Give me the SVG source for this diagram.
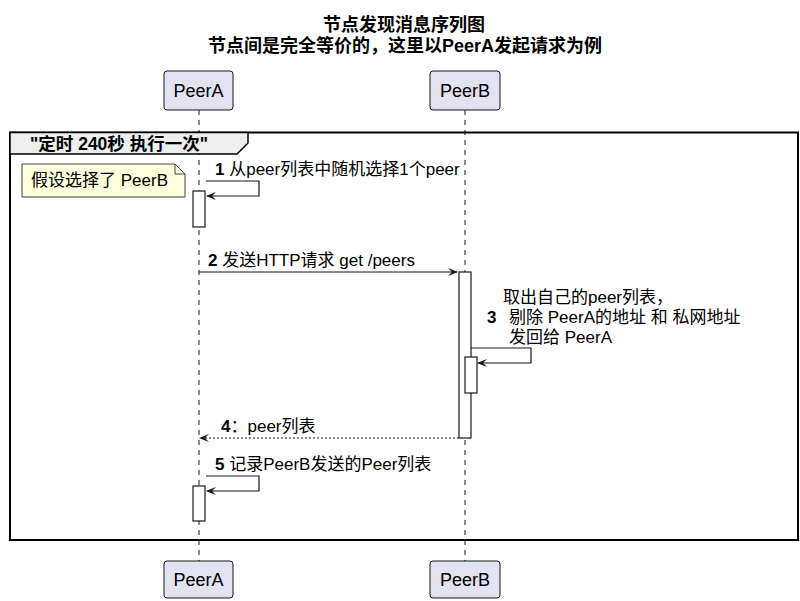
<svg xmlns="http://www.w3.org/2000/svg" width="800" height="601" viewBox="0 0 800 601">
<style>
text{font-family:"Liberation Sans","Noto Sans CJK SC",sans-serif;fill:#000}
.title{font-size:18px;font-weight:bold;text-anchor:middle}
.part{fill:#E2E2F0;stroke:#181818;stroke-width:1}
.pt{font-size:18px;text-anchor:middle}
.life{stroke:#181818;stroke-width:1;stroke-dasharray:5 5}
.act{fill:#fff;stroke:#181818;stroke-width:1.2}
.msg{fill:none;stroke:#181818;stroke-width:1.2}
.ret{fill:none;stroke:#181818;stroke-width:1.2;stroke-dasharray:2 2}
.head{fill:#181818}
.m{font-size:17px}
.n{font-weight:bold}
</style>
<text class="title" x="404" y="31">节点发现消息序列图</text>
<text class="title" x="405" y="52">节点间是完全等价的，这里以PeerA发起请求为例</text>

<g id="lifelines">
<line class="life" x1="199" y1="110" x2="199" y2="561"/>
<line class="life" x1="465" y1="110" x2="465" y2="561"/>
</g>

<g id="group-loop">
<rect x="10" y="132.5" width="788" height="407.5" fill="none" stroke="#000" stroke-width="2"/>
<path d="M10,132.5 H248 V143 L237,154 H10 Z" fill="#EEEEEE" stroke="#000" stroke-width="1.5"/>
<text x="30" y="150" font-size="17.5" font-weight="bold">"定时 240秒 执行一次"</text>
</g>

<g id="PeerA">
<rect class="part" x="164" y="71" width="69" height="39" rx="3"/>
<text class="pt" x="198.5" y="97">PeerA</text>
<rect class="part" x="164" y="561" width="69" height="37" rx="3"/>
<text class="pt" x="198.5" y="586">PeerA</text>
</g>
<g id="PeerB">
<rect class="part" x="430" y="71" width="70" height="39" rx="3"/>
<text class="pt" x="465" y="97">PeerB</text>
<rect class="part" x="430" y="561" width="70" height="37" rx="3"/>
<text class="pt" x="465" y="586">PeerB</text>
</g>

<g id="activations">
<rect class="act" x="193" y="191" width="12" height="36"/>
<rect class="act" x="459" y="272" width="12" height="166"/>
<rect class="act" x="465" y="357" width="12" height="36"/>
<rect class="act" x="193" y="486" width="12" height="35"/>
</g>

<g id="note">
<path d="M22,164 H175 L185,174 V197 H22 Z" fill="#FEFFDD" stroke="#181818" stroke-width="0.8"/>
<path d="M175,164 V174 H185" fill="none" stroke="#181818" stroke-width="0.8"/>
<text x="31" y="186" font-size="17">假设选择了 PeerB</text>
</g>

<g id="connectors">
<path class="msg" d="M206,181 H259 V196 H207"/>
<polygon class="head" points="206,196 216,192 212,196 216,200"/>
<text class="m" x="215" y="175"><tspan class="n">1</tspan> 从peer列表中随机选择1个peer</text>

<line class="msg" x1="199" y1="272" x2="457" y2="272"/>
<polygon class="head" points="458,272 448,268 452,272 448,276"/>
<text class="m" x="208" y="266"><tspan class="n">2</tspan> 发送HTTP请求 get /peers</text>

<path class="msg" d="M471,348 H531 V363 H478"/>
<polygon class="head" points="477,363 487,359 483,363 487,367"/>
<text class="m" x="503" y="303">取出自己的peer列表，</text>
<text class="m" x="487" y="323"><tspan class="n">3</tspan></text>
<text class="m" x="509" y="323">剔除 PeerA的地址 和 私网地址</text>
<text class="m" x="509" y="343">发回给 PeerA</text>

<line class="ret" x1="459" y1="438" x2="201" y2="438"/>
<polygon class="head" points="199,438 209,434 205,438 209,442"/>
<text class="m" x="221" y="432"><tspan class="n">4</tspan>：peer列表</text>

<path class="msg" d="M206,476 H259 V491 H207"/>
<polygon class="head" points="206,491 216,487 212,491 216,495"/>
<text class="m" x="215" y="470"><tspan class="n">5</tspan> 记录PeerB发送的Peer列表</text>
</g>
</svg>
